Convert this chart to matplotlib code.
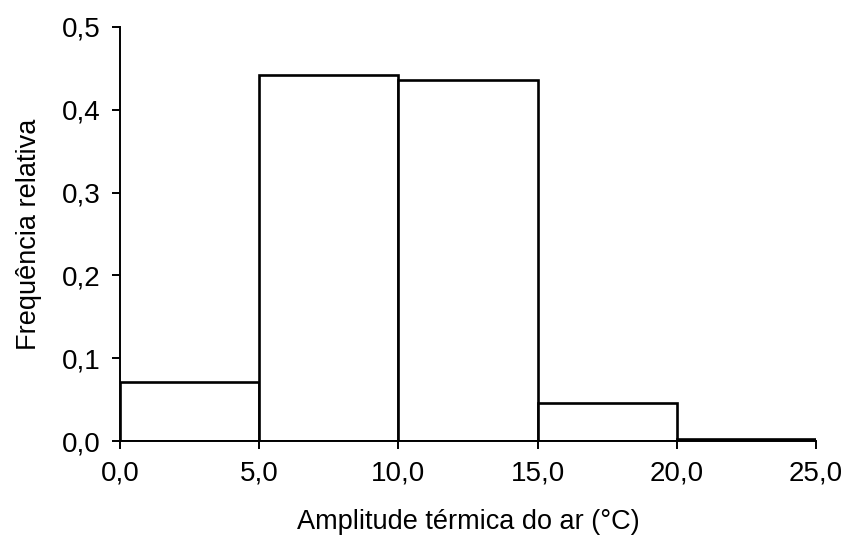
import matplotlib
matplotlib.use("Agg")
import matplotlib.pyplot as plt

plt.rcParams.update({"font.family": ["Liberation Sans", "DejaVu Sans"], "font.size": 19.5})

# histogram data (classes of 5 degC)
bin_edges = [0, 5, 10, 15, 20, 25]
rel_freq = [0.071, 0.442, 0.436, 0.046, 0.002]
x_ticks = [0, 5, 10, 15, 20, 25]
x_labels = ["0,0", "5,0", "10,0", "15,0", "20,0", "25,0"]
y_ticks = [0.0, 0.1, 0.2, 0.3, 0.4, 0.5]
y_labels = ["0,0", "0,1", "0,2", "0,3", "0,4", "0,5"]

fig = plt.figure(figsize=(8.47, 5.43), dpi=100)
ax = fig.add_axes([0.1417, 0.1878, 0.8217, 0.7625])

lefts = bin_edges[:-1]
widths = [b - a for a, b in zip(bin_edges[:-1], bin_edges[1:])]
ax.bar(lefts, rel_freq, width=widths, align="edge", color="white",
       edgecolor="black", lw=1.9, zorder=3)

ax.set_xlim(0, 25)
ax.set_ylim(0, 0.5)
ax.set_xticks(x_ticks)
ax.set_xticklabels(x_labels)
ax.set_yticks(y_ticks)
ax.set_yticklabels(y_labels)
ax.tick_params(axis="both", direction="out", length=6, width=1.4, labelsize=20, pad=8)

for s in ["top", "right"]:
    ax.spines[s].set_visible(False)
for s in ["left", "bottom"]:
    ax.spines[s].set_linewidth(1.4)
    ax.spines[s].set_zorder(4)

ax.set_xlabel("Amplitude térmica do ar (°C)", fontsize=19.5, labelpad=16)
ax.set_ylabel("Frequência relativa", fontsize=19.5, labelpad=14)

fig.savefig("out.png", dpi=100, facecolor="white")
